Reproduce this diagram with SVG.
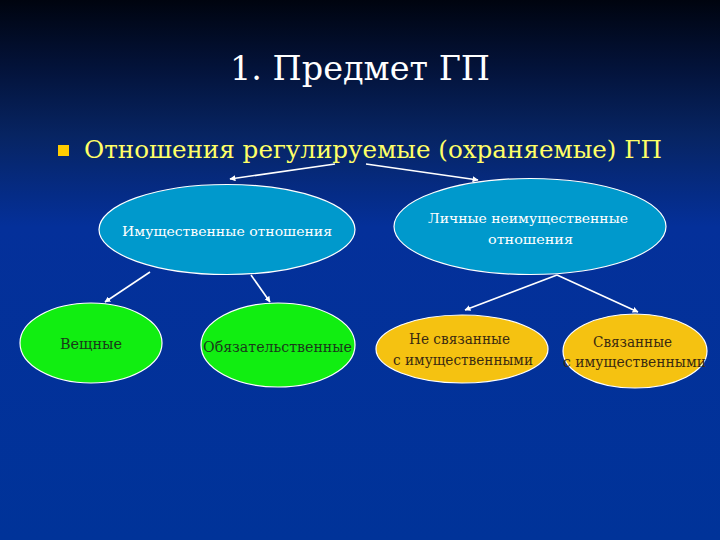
<svg xmlns="http://www.w3.org/2000/svg" width="720" height="540" viewBox="0 0 720 540">
<defs>
<linearGradient id="bg" x1="0" y1="0" x2="0" y2="1">
<stop offset="0" stop-color="#00040f"/>
<stop offset="0.12" stop-color="#031238"/>
<stop offset="0.25" stop-color="#072462"/>
<stop offset="0.42" stop-color="#04309a"/>
<stop offset="1" stop-color="#003399"/>
</linearGradient>
<marker id="ah" viewBox="0 0 10 10" refX="9" refY="5" markerWidth="6" markerHeight="6" orient="auto" markerUnits="userSpaceOnUse">
<path d="M0,0 L10,5 L0,10 z" fill="#ffffff"/>
</marker>
<style>
text{font-family:"DejaVu Serif","Liberation Serif",serif}
.title{fill:#ffffff;font-size:34px}
.bul{fill:#ffff66;font-size:25px}
.n{stroke:#ffffff;stroke-width:1.2}
.cy{fill:#0099cc}
.gr{fill:#11ee11}
.ye{fill:#f5c211}
.wt{fill:#ffffff;font-size:13px}
.dk{fill:#1a3a1a;font-size:14px}
.yt{fill:#3a2a10;font-size:14px}
.c{stroke:#ffffff;stroke-width:1.6;fill:none;marker-end:url(#ah)}
</style>
</defs>
<rect width="720" height="540" fill="url(#bg)"/>
<text class="title" x="360" y="80" text-anchor="middle" textLength="260" lengthAdjust="spacingAndGlyphs">1. Предмет ГП</text>
<rect x="58" y="145" width="11" height="11" fill="#ffcc00"/>
<text class="bul" x="84" y="158" textLength="578" lengthAdjust="spacingAndGlyphs">Отношения регулируемые (охраняемые) ГП</text>
<g id="connectors">
<line class="c" x1="335" y1="164" x2="230" y2="179"/>
<line class="c" x1="366" y1="164" x2="478" y2="180"/>
<line class="c" x1="150" y1="272" x2="105" y2="302"/>
<line class="c" x1="251" y1="275" x2="270" y2="302"/>
<line class="c" x1="557" y1="275" x2="465" y2="310"/>
<line class="c" x1="557" y1="275" x2="638" y2="312"/>
</g>
<g id="n1">
<ellipse class="n cy" cx="227" cy="229.5" rx="128" ry="45"/>
<text class="wt" x="122" y="236" textLength="210" lengthAdjust="spacingAndGlyphs">Имущественные отношения</text>
</g>
<g id="n2">
<ellipse class="n cy" cx="530" cy="226.5" rx="136" ry="48"/>
<text class="wt" x="428" y="223" textLength="200" lengthAdjust="spacingAndGlyphs">Личные неимущественные</text>
<text class="wt" x="488" y="244" textLength="85" lengthAdjust="spacingAndGlyphs">отношения</text>
</g>
<g id="n3">
<ellipse class="n gr" cx="91" cy="343" rx="71" ry="40"/>
<text class="dk" x="60" y="349" textLength="62" lengthAdjust="spacingAndGlyphs">Вещные</text>
</g>
<g id="n4">
<ellipse class="n gr" cx="278" cy="345" rx="77" ry="42"/>
<text class="dk" x="203" y="352" textLength="149" lengthAdjust="spacingAndGlyphs">Обязательственные</text>
</g>
<g id="n5">
<ellipse class="n ye" cx="462" cy="349" rx="86" ry="34"/>
<text class="yt" x="409" y="344" textLength="101" lengthAdjust="spacingAndGlyphs">Не связанные</text>
<text class="yt" x="393" y="365" textLength="140" lengthAdjust="spacingAndGlyphs">с имущественными</text>
</g>
<g id="n6">
<ellipse class="n ye" cx="635" cy="351" rx="72" ry="37"/>
<text class="yt" x="593" y="347" textLength="79" lengthAdjust="spacingAndGlyphs">Связанные</text>
<text class="yt" x="563" y="367" textLength="143" lengthAdjust="spacingAndGlyphs">с имущественными</text>
</g>
</svg>
